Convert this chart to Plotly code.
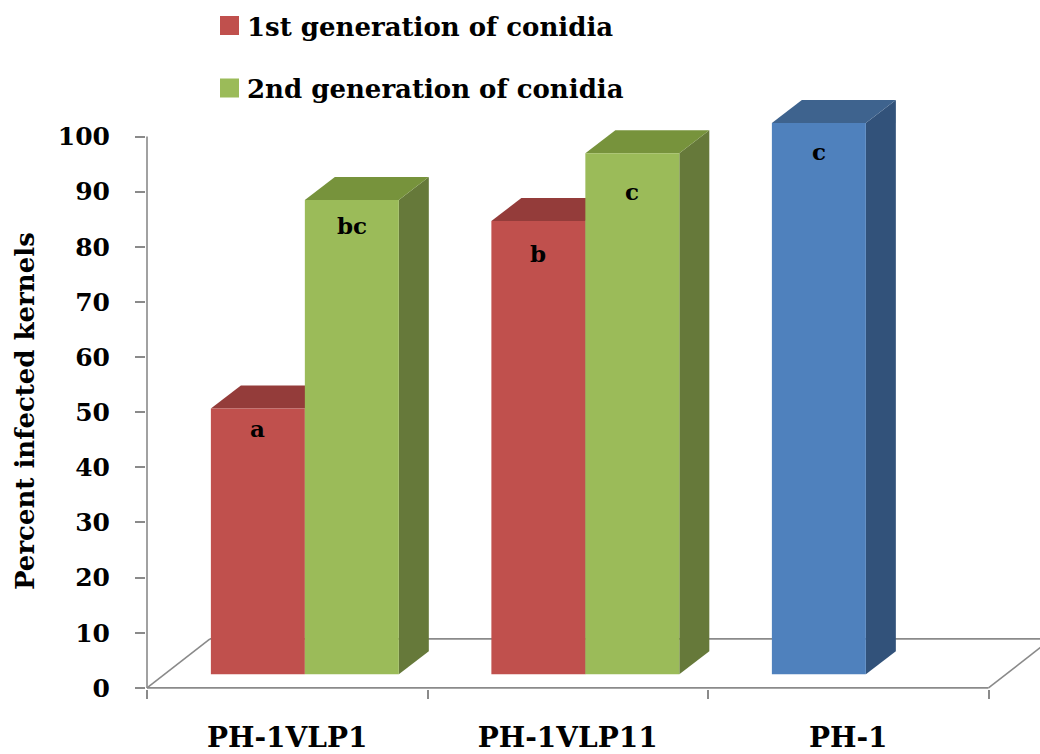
import plotly.graph_objects as go

# ---- data -------------------------------------------------------------
categories = ["PH-1VLP1", "PH-1VLP11", "PH-1"]
first_gen = [48.2, 82.2]        # PH-1VLP1, PH-1VLP11
second_gen = [86.0, 94.5]       # PH-1VLP1, PH-1VLP11
parent_strain = [100.0]         # PH-1
first_letters = ["a", "b"]
second_letters = ["bc", "c"]
parent_letters = ["c"]
y_ticks = [0, 10, 20, 30, 40, 50, 60, 70, 80, 90, 100]
series_names = ["1st generation of conidia", "2nd generation of conidia"]

# ---- styling ----------------------------------------------------------
FONT = "DejaVu Serif"
RED, RED_TOP, RED_SIDE = "#C0504D", "#943C3A", "#7E3230"
GREEN, GREEN_TOP, GREEN_SIDE = "#9BBB59", "#77933C", "#66793A"
BLUE, BLUE_TOP, BLUE_SIDE = "#4F81BD", "#3E638E", "#32527A"
AXIS = "#8A8A8A"

# pixel scale of the chart box
PX_X = 280.5            # pixels per category
PX_Y = 5.514            # pixels per percent
M_L, M_T, M_B = 146, 95, 65
PLOT_W = 1040 - M_L
PLOT_H = 754 - M_T - M_B
x_lo = -0.5 - 1.0 / PX_X
x_hi = x_lo + PLOT_W / PX_X
y_lo = -0.2
y_hi = y_lo + PLOT_H / PX_Y

# oblique projection: floor depth, bar front offset and bar depth
FLOOR_DX, FLOOR_DY = 63 / PX_X, 49 / PX_Y
FRONT_DX, FRONT_DY = 17.6 / PX_X, 13.6 / PX_Y
DEPTH_DX, DEPTH_DY = 30 / PX_X, 23 / PX_Y
BAR_W = 0.335


def px_to_paper_x(px):
    return (px - M_L) / PLOT_W


def px_to_paper_y(py):
    return (M_T + PLOT_H - py) / PLOT_H


positions = list(range(len(categories)))

fig = go.Figure()

bar_specs = [
    # (positions, values, offset, front, top, side, name, letters, label drops)
    (positions[:2], first_gen, -BAR_W, RED, RED_TOP, RED_SIDE,
     series_names[0], first_letters, [20, 32]),
    (positions[:2], second_gen, 0.0, GREEN, GREEN_TOP, GREEN_SIDE,
     series_names[1], second_letters, [25, 38]),
    (positions[2:], parent_strain, -BAR_W, BLUE, BLUE_TOP, BLUE_SIDE,
     categories[2], parent_letters, [29]),
]

shapes = []

# floor outline and vertical axis line
floor = dict(type="line", xref="x", yref="y", layer="below",
             line=dict(color=AXIS, width=1.6))
shapes += [
    dict(floor, x0=-0.5, y0=0, x1=2.5, y1=0),
    dict(floor, x0=-0.5, y0=0, x1=-0.5 + FLOOR_DX, y1=FLOOR_DY),
    dict(floor, x0=-0.5 + FLOOR_DX, y0=FLOOR_DY, x1=2.5 + FLOOR_DX, y1=FLOOR_DY),
    dict(floor, x0=2.5, y0=0, x1=2.5 + FLOOR_DX, y1=FLOOR_DY),
    dict(floor, x0=-0.5, y0=0, x1=-0.5, y1=100),
]

annotations = []

for xs, vals, off, c_front, c_top, c_side, name, letters, drops in bar_specs:
    fig.add_trace(go.Bar(
        x=xs, y=vals, offset=off, width=BAR_W,
        marker=dict(color=c_front, line=dict(width=0)),
        name=name, showlegend=False,
        xaxis="x2", yaxis="y2",
    ))
    for x, v, letter, drop in zip(xs, vals, letters, drops):
        x0 = x + off
        x1 = x0 + BAR_W
        # right side face
        shapes.append(dict(
            type="path", xref="x2", yref="y2", layer="below",
            path=(f"M{x1},0 L{x1 + DEPTH_DX},{DEPTH_DY} "
                  f"L{x1 + DEPTH_DX},{v + DEPTH_DY} L{x1},{v} Z"),
            fillcolor=c_side, line=dict(width=0),
        ))
        # top face
        shapes.append(dict(
            type="path", xref="x2", yref="y2", layer="below",
            path=(f"M{x0},{v} L{x1},{v} L{x1 + DEPTH_DX},{v + DEPTH_DY} "
                  f"L{x0 + DEPTH_DX},{v + DEPTH_DY} Z"),
            fillcolor=c_top, line=dict(width=0),
        ))
        annotations.append(dict(
            x=x0 + BAR_W / 2, y=v, xref="x2", yref="y2",
            text=letter, showarrow=False, yshift=-drop,
            xanchor="center", yanchor="middle",
            font=dict(family=FONT, size=23, color="black", weight="bold"),
        ))

# legend: coloured swatch plus series name, one row per series
for row, (name, colour) in enumerate(zip(series_names, [RED, GREEN])):
    cy = 25.5 + 62.5 * row
    shapes.append(dict(
        type="rect", xref="paper", yref="paper",
        x0=px_to_paper_x(220), x1=px_to_paper_x(239),
        y0=px_to_paper_y(cy - 9.5), y1=px_to_paper_y(cy + 9.5),
        fillcolor=colour, line=dict(width=0),
    ))
    annotations.append(dict(
        x=px_to_paper_x(245), y=px_to_paper_y(cy + 1.5),
        xref="paper", yref="paper", text=name, showarrow=False,
        xanchor="left", yanchor="middle",
        font=dict(family=FONT, size=26, color="black", weight="bold"),
    ))

# vertical axis title
annotations.append(dict(
    x=px_to_paper_x(25), y=px_to_paper_y(411),
    xref="paper", yref="paper", text="Percent infected kernels",
    textangle=-90, showarrow=False, xanchor="center", yanchor="middle",
    font=dict(family=FONT, size=26, color="black", weight="bold"),
))

fig.update_layout(
    width=1040, height=754,
    margin=dict(l=M_L, r=0, t=M_T, b=M_B, autoexpand=False),
    paper_bgcolor="white", plot_bgcolor="white",
    barmode="overlay",
    shapes=shapes,
    annotations=annotations,
    showlegend=False,
    xaxis=dict(
        range=[x_lo, x_hi], tickmode="array", tickvals=positions,
        ticktext=categories, ticks="", showgrid=False, zeroline=False,
        showline=False, ticklabelstandoff=29, tickangle=0, automargin=False,
        tickfont=dict(family=FONT, size=28, color="black", weight="bold"),
        minor=dict(tickmode="array", tickvals=[-0.5, 0.5, 1.5, 2.5],
                   ticks="outside", ticklen=9, tickwidth=1.6,
                   tickcolor=AXIS, showgrid=False),
    ),
    yaxis=dict(
        range=[y_lo, y_hi], tickmode="array", tickvals=y_ticks,
        ticks="outside", ticklen=10, tickwidth=1.6, tickcolor=AXIS,
        showgrid=False, zeroline=False, showline=False, automargin=False,
        ticklabelstandoff=20,
        tickfont=dict(family=FONT, size=25, color="black", weight="bold"),
    ),
    xaxis2=dict(
        range=[x_lo - FRONT_DX, x_hi - FRONT_DX], overlaying="x",
        visible=False, anchor="y2",
    ),
    yaxis2=dict(
        range=[y_lo - FRONT_DY, y_hi - FRONT_DY], overlaying="y",
        visible=False, anchor="x2",
    ),
)

fig.write_html("out.html")
